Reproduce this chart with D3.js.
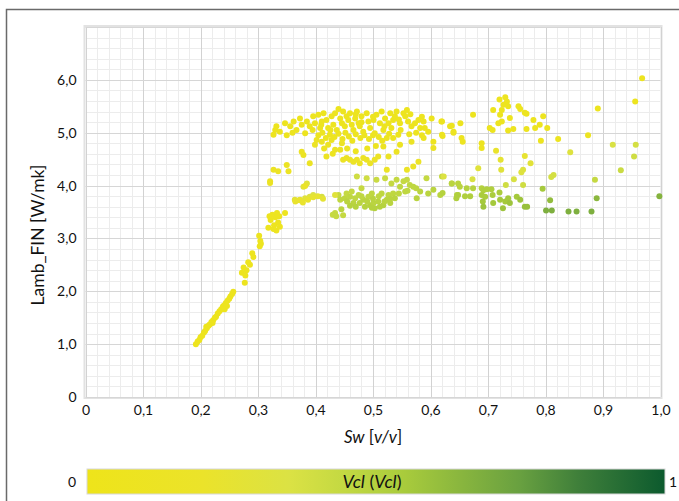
<!DOCTYPE html>
<html>
<head>
<meta charset="utf-8">
<script src="https://cdn.jsdelivr.net/npm/d3@7"></script>
<style>
  body { margin: 0; background: #fff; }
  svg { display: block; font-family: Lato, "Open Sans", sans-serif; }
</style>
</head>
<body>
<div id="chart"></div>
<script>
// ticks
var xTicks = [0, 0.1, 0.2, 0.3, 0.4, 0.5, 0.6, 0.7, 0.8, 0.9, 1.0];
var xTickLabels = ["0", "0,1", "0,2", "0,3", "0,4", "0,5", "0,6", "0,7", "0,8", "0,9", "1,0"];
var yTicks = [0, 1, 2, 3, 4, 5, 6];
var yTickLabels = ["0", "1,0", "2,0", "3,0", "4,0", "5,0", "6,0"];

// points: [Sw, Lamb_FIN, Vcl]
var rampPts = [
  [0.192, 1.00, 0.05], [0.195, 1.05, 0.05], [0.198, 1.08, 0.05], [0.200, 1.13, 0.05], [0.203, 1.16, 0.05],
  [0.206, 1.22, 0.05], [0.208, 1.25, 0.05], [0.210, 1.33, 0.05], [0.211, 1.30, 0.05], [0.214, 1.35, 0.05],
  [0.216, 1.37, 0.05], [0.219, 1.42, 0.05], [0.221, 1.40, 0.05], [0.222, 1.45, 0.05], [0.225, 1.50, 0.05],
  [0.227, 1.52, 0.05], [0.230, 1.58, 0.05], [0.233, 1.62, 0.05], [0.236, 1.66, 0.05], [0.239, 1.71, 0.05],
  [0.241, 1.73, 0.05], [0.242, 1.66, 0.05], [0.244, 1.78, 0.05], [0.246, 1.72, 0.05], [0.247, 1.82, 0.05],
  [0.250, 1.86, 0.05], [0.252, 1.90, 0.05], [0.255, 1.95, 0.05], [0.257, 1.99, 0.05],
  [0.277, 2.16, 0.06], [0.272, 2.35, 0.06], [0.275, 2.45, 0.06], [0.280, 2.40, 0.06], [0.283, 2.55, 0.06],
  [0.286, 2.50, 0.06], [0.278, 2.30, 0.06], [0.290, 2.72, 0.06], [0.292, 2.65, 0.06], [0.303, 2.85, 0.06],
  [0.304, 2.95, 0.06], [0.302, 3.05, 0.06], [0.305, 2.90, 0.06],
  [0.318, 3.20, 0.07], [0.322, 3.35, 0.07], [0.325, 3.45, 0.07], [0.328, 3.25, 0.07], [0.330, 3.40, 0.07],
  [0.332, 3.15, 0.07], [0.335, 3.30, 0.07], [0.337, 3.42, 0.07], [0.320, 3.42, 0.07], [0.327, 3.18, 0.07],
  [0.333, 3.48, 0.07], [0.338, 3.22, 0.07], [0.347, 3.48, 0.07]
];

var upperPts = [
  [0.330, 5.05, 0.06], [0.327, 4.96, 0.06], [0.332, 5.12, 0.06], [0.338, 5.02, 0.06], [0.347, 5.18, 0.06],
  [0.356, 5.12, 0.06], [0.362, 5.21, 0.06], [0.367, 5.05, 0.06], [0.373, 5.27, 0.06], [0.376, 5.15, 0.06],
  [0.382, 4.99, 0.06], [0.385, 5.21, 0.06], [0.390, 5.12, 0.06], [0.396, 5.31, 0.06], [0.399, 5.18, 0.06],
  [0.405, 5.34, 0.06], [0.408, 5.09, 0.06], [0.411, 5.21, 0.06], [0.414, 5.37, 0.06], [0.419, 5.24, 0.06],
  [0.422, 5.09, 0.06], [0.425, 4.96, 0.06], [0.428, 5.31, 0.06], [0.431, 5.15, 0.06], [0.434, 5.37, 0.06],
  [0.437, 5.05, 0.06], [0.443, 5.27, 0.06], [0.446, 5.18, 0.06], [0.448, 5.40, 0.06], [0.451, 5.12, 0.06],
  [0.454, 5.31, 0.06], [0.457, 5.24, 0.06], [0.460, 5.37, 0.06], [0.463, 5.15, 0.06], [0.466, 5.05, 0.06],
  [0.469, 5.27, 0.06], [0.472, 5.40, 0.06], [0.475, 5.18, 0.06], [0.477, 5.12, 0.06], [0.480, 5.31, 0.06],
  [0.483, 5.02, 0.06], [0.489, 5.37, 0.06], [0.492, 5.21, 0.06], [0.495, 5.09, 0.06], [0.501, 5.24, 0.06],
  [0.503, 4.99, 0.06], [0.506, 5.34, 0.06], [0.512, 5.18, 0.06], [0.515, 5.40, 0.06], [0.518, 5.05, 0.06],
  [0.521, 5.27, 0.06], [0.524, 4.90, 0.06], [0.527, 5.18, 0.06], [0.530, 5.37, 0.06], [0.532, 5.09, 0.06],
  [0.535, 5.24, 0.06], [0.538, 5.31, 0.06], [0.541, 5.40, 0.06], [0.544, 4.96, 0.06], [0.547, 5.18, 0.06],
  [0.553, 5.37, 0.06], [0.556, 5.31, 0.06], [0.559, 5.43, 0.06], [0.561, 5.21, 0.06], [0.567, 5.12, 0.06],
  [0.573, 5.18, 0.06], [0.579, 5.24, 0.06], [0.582, 5.09, 0.06], [0.588, 5.21, 0.06], [0.590, 5.09, 0.06],
  [0.596, 5.02, 0.06], [0.602, 5.27, 0.06], [0.605, 4.83, 0.06], [0.620, 5.21, 0.06], [0.620, 4.96, 0.06],
  [0.634, 5.12, 0.06], [0.640, 5.02, 0.06],
  [0.405, 4.95, 0.07], [0.412, 5.00, 0.07], [0.418, 4.90, 0.07], [0.426, 5.05, 0.07], [0.433, 4.92, 0.07],
  [0.440, 4.98, 0.07], [0.447, 4.88, 0.07], [0.452, 5.00, 0.07], [0.458, 4.93, 0.07], [0.464, 4.85, 0.07],
  [0.470, 4.97, 0.07], [0.478, 4.90, 0.07], [0.485, 4.95, 0.07], [0.493, 4.88, 0.07], [0.500, 4.95, 0.07],
  [0.510, 4.92, 0.07], [0.516, 4.85, 0.07], [0.528, 4.98, 0.07], [0.548, 5.05, 0.07], [0.563, 4.97, 0.07],
  [0.575, 5.00, 0.07], [0.585, 4.95, 0.07], [0.415, 4.70, 0.08], [0.430, 4.60, 0.08], [0.455, 4.70, 0.08],
  [0.470, 4.65, 0.08], [0.490, 4.70, 0.08], [0.505, 4.75, 0.08], [0.440, 5.45, 0.06], [0.470, 5.35, 0.06],
  [0.500, 5.30, 0.06], [0.360, 5.00, 0.06], [0.350, 4.95, 0.06], [0.395, 5.05, 0.06], [0.410, 5.15, 0.06],
  [0.480, 5.20, 0.06], [0.520, 5.12, 0.06], [0.545, 5.25, 0.06], [0.565, 5.35, 0.06], [0.585, 5.30, 0.06],
  [0.968, 6.03, 0.06], [0.956, 5.59, 0.06], [0.891, 5.46, 0.06], [0.720, 5.63, 0.06], [0.730, 5.67, 0.06],
  [0.733, 5.59, 0.06], [0.727, 5.53, 0.06], [0.724, 5.43, 0.06], [0.735, 5.50, 0.06], [0.709, 5.43, 0.06],
  [0.721, 5.34, 0.06], [0.738, 5.28, 0.06], [0.724, 5.21, 0.06], [0.718, 5.18, 0.06], [0.753, 5.50, 0.06],
  [0.756, 5.45, 0.06], [0.764, 5.38, 0.06], [0.767, 5.36, 0.06], [0.674, 5.34, 0.06], [0.652, 5.18, 0.06],
  [0.637, 5.13, 0.06], [0.619, 5.21, 0.06], [0.640, 5.00, 0.06], [0.621, 4.94, 0.06], [0.703, 5.09, 0.06],
  [0.708, 5.05, 0.06], [0.735, 5.04, 0.06], [0.744, 5.07, 0.06], [0.767, 5.07, 0.06], [0.779, 5.24, 0.06],
  [0.782, 5.09, 0.06], [0.790, 5.15, 0.06], [0.796, 5.31, 0.06], [0.803, 5.09, 0.06], [0.792, 4.85, 0.08],
  [0.822, 4.88, 0.08], [0.874, 4.95, 0.08], [0.654, 4.90, 0.08], [0.656, 4.83, 0.08], [0.689, 4.80, 0.08],
  [0.689, 4.71, 0.08]
];

var midPts = [
  [0.379, 4.58, 0.12], [0.376, 4.64, 0.12], [0.390, 4.42, 0.12], [0.399, 4.77, 0.12], [0.402, 4.86, 0.12],
  [0.411, 4.83, 0.12], [0.419, 4.55, 0.12], [0.422, 4.77, 0.12], [0.428, 4.86, 0.12], [0.434, 4.68, 0.12],
  [0.443, 4.68, 0.12], [0.446, 4.80, 0.12], [0.448, 4.49, 0.14], [0.454, 4.52, 0.14], [0.460, 4.49, 0.14],
  [0.466, 4.45, 0.14], [0.472, 4.49, 0.14], [0.477, 4.42, 0.14], [0.483, 4.52, 0.14], [0.489, 4.49, 0.14],
  [0.495, 4.42, 0.14], [0.503, 4.49, 0.14], [0.509, 4.55, 0.14], [0.518, 4.74, 0.12], [0.524, 4.30, 0.16],
  [0.527, 4.55, 0.14], [0.535, 4.90, 0.10], [0.541, 4.64, 0.12], [0.547, 4.77, 0.12], [0.559, 4.30, 0.16],
  [0.567, 4.83, 0.12], [0.570, 4.36, 0.16], [0.579, 4.45, 0.16], [0.588, 4.90, 0.10], [0.605, 4.71, 0.12],
  [0.327, 4.30, 0.12], [0.335, 4.27, 0.12], [0.350, 4.39, 0.12], [0.353, 4.27, 0.12], [0.321, 4.08, 0.12],
  [0.321, 4.05, 0.12], [0.382, 3.99, 0.18], [0.365, 3.70, 0.22], [0.372, 3.72, 0.22], [0.378, 3.68, 0.22],
  [0.387, 3.73, 0.22], [0.396, 3.78, 0.24], [0.404, 3.80, 0.24], [0.413, 3.75, 0.26], [0.434, 3.82, 0.30],
  [0.714, 4.66, 0.22], [0.764, 4.56, 0.24], [0.722, 4.49, 0.26], [0.774, 4.42, 0.28], [0.683, 4.33, 0.30],
  [0.723, 4.30, 0.30], [0.843, 4.63, 0.32], [0.917, 4.77, 0.36], [0.957, 4.77, 0.38], [0.954, 4.55, 0.40],
  [0.931, 4.29, 0.42], [0.761, 4.30, 0.32], [0.758, 4.25, 0.32], [0.814, 4.20, 0.38], [0.810, 4.16, 0.38],
  [0.745, 4.12, 0.36], [0.673, 4.12, 0.36], [0.623, 4.17, 0.34], [0.886, 4.11, 0.44], [0.761, 4.01, 0.40],
  [0.731, 4.01, 0.40]
];

var greenPts = [
  [0.379, 3.98, 0.30], [0.385, 4.04, 0.30], [0.364, 3.73, 0.28], [0.373, 3.73, 0.28], [0.382, 3.76, 0.30],
  [0.390, 3.79, 0.32], [0.396, 3.82, 0.34], [0.411, 3.79, 0.38], [0.434, 3.48, 0.44], [0.448, 3.44, 0.44],
  [0.430, 3.45, 0.44], [0.436, 3.42, 0.44],
  [0.440, 3.82, 0.44], [0.443, 3.73, 0.46], [0.451, 3.76, 0.46], [0.454, 3.85, 0.44], [0.460, 3.79, 0.46],
  [0.463, 3.89, 0.44], [0.466, 3.67, 0.48], [0.469, 3.76, 0.46], [0.472, 4.17, 0.40], [0.475, 3.82, 0.46],
  [0.477, 3.67, 0.48], [0.480, 3.95, 0.44], [0.483, 3.73, 0.48], [0.486, 3.60, 0.50], [0.489, 4.14, 0.40],
  [0.492, 3.79, 0.46], [0.495, 3.63, 0.50], [0.498, 3.85, 0.46], [0.501, 3.67, 0.48], [0.503, 3.57, 0.50],
  [0.506, 4.11, 0.42], [0.509, 3.70, 0.48], [0.512, 3.60, 0.50], [0.515, 3.85, 0.46], [0.518, 3.63, 0.50],
  [0.521, 4.14, 0.42], [0.524, 3.73, 0.48], [0.527, 3.82, 0.46], [0.530, 3.67, 0.48], [0.532, 4.04, 0.44],
  [0.535, 3.85, 0.46], [0.538, 3.76, 0.48], [0.541, 4.11, 0.44], [0.547, 3.98, 0.46], [0.553, 4.08, 0.44],
  [0.556, 3.89, 0.46], [0.559, 4.11, 0.44], [0.564, 4.01, 0.46], [0.570, 3.98, 0.46], [0.576, 3.76, 0.48],
  [0.582, 3.89, 0.48], [0.593, 4.14, 0.44], [0.596, 3.85, 0.48], [0.605, 3.92, 0.48], [0.620, 4.17, 0.44],
  [0.617, 3.82, 0.48], [0.637, 4.04, 0.46], [0.646, 3.82, 0.50], [0.648, 4.04, 0.48],
  [0.455, 3.70, 0.48], [0.470, 3.60, 0.50], [0.480, 3.80, 0.46], [0.490, 3.70, 0.48], [0.500, 3.75, 0.48],
  [0.510, 3.80, 0.46], [0.520, 3.70, 0.48], [0.460, 3.62, 0.50], [0.498, 3.58, 0.50], [0.530, 3.75, 0.48],
  [0.545, 3.85, 0.46], [0.560, 3.90, 0.46], [0.575, 3.95, 0.46], [0.445, 3.55, 0.48],
  [0.637, 4.04, 0.48], [0.651, 3.98, 0.48], [0.663, 3.95, 0.50], [0.674, 3.95, 0.50], [0.648, 3.82, 0.52],
  [0.645, 3.76, 0.52], [0.660, 3.80, 0.52], [0.669, 3.80, 0.52], [0.621, 3.86, 0.50], [0.689, 3.95, 0.50],
  [0.692, 3.91, 0.52], [0.698, 3.93, 0.52], [0.706, 3.93, 0.52], [0.689, 3.82, 0.54], [0.695, 3.79, 0.54],
  [0.691, 3.70, 0.56], [0.692, 3.60, 0.58], [0.708, 3.82, 0.54], [0.709, 3.67, 0.56], [0.720, 3.87, 0.54],
  [0.721, 3.73, 0.56], [0.726, 3.57, 0.58], [0.730, 3.70, 0.56], [0.735, 3.76, 0.56], [0.738, 3.67, 0.58],
  [0.750, 3.79, 0.56], [0.756, 3.73, 0.58], [0.764, 3.60, 0.60], [0.768, 3.60, 0.60], [0.795, 3.94, 0.56],
  [0.808, 3.72, 0.62]
];

var darkPts = [
  [0.801, 3.53, 0.68], [0.811, 3.53, 0.68], [0.840, 3.51, 0.68], [0.854, 3.51, 0.68], [0.880, 3.51, 0.68],
  [0.889, 3.76, 0.64], [0.998, 3.80, 0.66]
];

// colour bar stops
var barStops = [0, 0.2, 0.35, 0.45, 0.55, 0.65, 0.75, 0.85, 1];
var barColors = ["#eee41a", "#ebe32a", "#dbe244", "#c2d842", "#a8cb3c", "#88b53e", "#68a040", "#3f7f3a", "#0c5a2e"];

var W = 679, H = 501;
var plot = { left: 85.5, right: 660.5, top: 27, bottom: 397 };

var svg = d3.select("#chart").append("svg")
  .attr("width", W)
  .attr("height", H);

// outer frame (cropped at right/bottom)
svg.append("rect")
  .attr("x", 6.5).attr("y", 9.5)
  .attr("width", 720).attr("height", 560)
  .attr("fill", "none")
  .attr("stroke", "#6a6a6a")
  .attr("stroke-width", 1.5);

var x = d3.scaleLinear().domain([0, 1]).range([plot.left, plot.right]);
var y = d3.scaleLinear().domain([0, 7]).range([plot.bottom, plot.top]);

// plot background + soft border
svg.append("rect")
  .attr("x", plot.left - 1).attr("y", plot.top - 1)
  .attr("width", plot.right - plot.left + 2).attr("height", plot.bottom - plot.top + 2)
  .attr("fill", "#fff")
  .attr("stroke", "#e2e2e2")
  .attr("stroke-width", 2);

var grid = svg.append("g");
grid.selectAll(".vminor")
  .data(d3.range(0, 51).map(function(i) { return i / 50; }))
  .enter().append("line")
  .attr("x1", function(d) { return Math.round(x(d)) + 0.5; })
  .attr("x2", function(d) { return Math.round(x(d)) + 0.5; })
  .attr("y1", plot.top).attr("y2", plot.bottom)
  .attr("stroke", "#ececec");
grid.selectAll(".hminor")
  .data(d3.range(0, 36).map(function(i) { return i / 5; }))
  .enter().append("line")
  .attr("y1", function(d) { return Math.round(y(d)) + 0.5; })
  .attr("y2", function(d) { return Math.round(y(d)) + 0.5; })
  .attr("x1", plot.left).attr("x2", plot.right)
  .attr("stroke", "#ececec");
grid.selectAll(".vmajor")
  .data(xTicks)
  .enter().append("line")
  .attr("x1", function(d) { return Math.round(x(d)) + 0.5; })
  .attr("x2", function(d) { return Math.round(x(d)) + 0.5; })
  .attr("y1", plot.top).attr("y2", plot.bottom)
  .attr("stroke", "#d2d2d2");
grid.selectAll(".hmajor")
  .data(yTicks.concat([7]))
  .enter().append("line")
  .attr("y1", function(d) { return Math.round(y(d)) + 0.5; })
  .attr("y2", function(d) { return Math.round(y(d)) + 0.5; })
  .attr("x1", plot.left).attr("x2", plot.right)
  .attr("stroke", "#d6d6d6");

// axes (labels only)
var xAxis = d3.axisBottom(x)
  .tickValues(xTicks)
  .tickSize(0)
  .tickPadding(6)
  .tickFormat(function(d, i) { return xTickLabels[i]; });
var xG = svg.append("g")
  .attr("transform", "translate(0," + (plot.bottom + 2) + ")")
  .call(xAxis);

var yAxis = d3.axisLeft(y)
  .tickValues(yTicks)
  .tickSize(0)
  .tickPadding(9)
  .tickFormat(function(d, i) { return yTickLabels[i]; });
var yG = svg.append("g")
  .attr("transform", "translate(" + plot.left + ",0)")
  .call(yAxis);

[xG, yG].forEach(function(g) {
  g.select(".domain").remove();
  g.selectAll("text")
    .attr("fill", "#111")
    .style("font-size", "14px")
    .style("font-family", "Lato, 'Open Sans', sans-serif");
});

// points
var colorScale = d3.scaleLinear().domain(barStops).range(barColors);
var allPts = [].concat(greenPts, darkPts, midPts, upperPts, rampPts);

svg.append("g")
  .selectAll("circle")
  .data(allPts)
  .enter()
  .append("circle")
  .attr("cx", function(d) { return x(d[0]); })
  .attr("cy", function(d) { return y(d[1]); })
  .attr("r", 3)
  .attr("fill", function(d) { return colorScale(d[2]); });

// axis titles
var xTitle = svg.append("text")
  .attr("x", (plot.left + plot.right) / 2)
  .attr("y", 443)
  .attr("text-anchor", "middle")
  .attr("fill", "#111")
  .style("font-size", "17px");
xTitle.append("tspan").style("font-style", "italic").text("Sw");
xTitle.append("tspan").text(" [");
xTitle.append("tspan").style("font-style", "italic").text("v/v");
xTitle.append("tspan").text("]");

svg.append("text")
  .attr("transform", "translate(44,235) rotate(-90)")
  .attr("text-anchor", "middle")
  .attr("fill", "#111")
  .style("font-size", "17.5px")
  .text("Lamb_FIN [W/mk]");

// colour bar
var defs = svg.append("defs");
var grad = defs.append("linearGradient").attr("id", "vclGrad");
grad.selectAll("stop")
  .data(barStops)
  .enter().append("stop")
  .attr("offset", function(d) { return (d * 100) + "%"; })
  .attr("stop-color", function(d, i) { return barColors[i]; });

var bar = { x0: 87, x1: 665, y0: 469, y1: 494 };
svg.append("rect")
  .attr("x", bar.x0).attr("y", bar.y0)
  .attr("width", bar.x1 - bar.x0).attr("height", bar.y1 - bar.y0)
  .attr("fill", "url(#vclGrad)")
  .attr("stroke", "#d8d8d8")
  .attr("stroke-width", 1);

svg.append("text")
  .attr("x", 72).attr("y", 487)
  .attr("text-anchor", "middle")
  .attr("fill", "#111")
  .style("font-size", "14px")
  .text("0");
svg.append("text")
  .attr("x", 673).attr("y", 487)
  .attr("text-anchor", "middle")
  .attr("fill", "#111")
  .style("font-size", "14px")
  .text("1");

var barTitle = svg.append("text")
  .attr("x", (bar.x0 + bar.x1) / 2 - 4)
  .attr("y", 488)
  .attr("text-anchor", "middle")
  .attr("fill", "#111")
  .style("font-size", "18px");
barTitle.append("tspan").style("font-style", "italic").text("Vcl");
barTitle.append("tspan").text(" (");
barTitle.append("tspan").style("font-style", "italic").text("Vcl");
barTitle.append("tspan").text(")");
</script>
</body>
</html>
